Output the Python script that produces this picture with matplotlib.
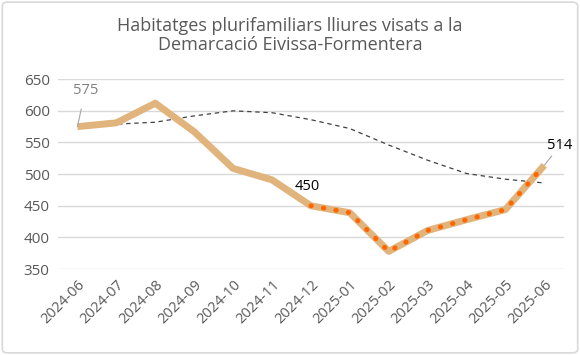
import matplotlib
matplotlib.use("Agg")
import matplotlib.pyplot as plt
from matplotlib.patches import FancyBboxPatch

months = ["2024-06", "2024-07", "2024-08", "2024-09", "2024-10", "2024-11", "2024-12",
          "2025-01", "2025-02", "2025-03", "2025-04", "2025-05", "2025-06"]
visats = [575, 581, 612, 567, 509, 491, 450, 439, 378, 411, 428, 444, 514]
tendencia = [576, 579, 582, 592, 600, 597, 586, 572, 546, 522, 501, 492, 486]
ticks_y = [350, 400, 450, 500, 550, 600, 650]

plt.rcParams['font.family'] = ['Open Sans', 'DejaVu Sans']

fig = plt.figure(figsize=(5.8, 3.55), dpi=100)
fig.patches.append(FancyBboxPatch((0.004, 0.006), 0.992, 0.988, boxstyle="round,pad=0,rounding_size=0.01",
                                  transform=fig.transFigure, fill=False, edgecolor="#d9d9d9", linewidth=1.2))
ax = fig.add_axes([0.1, 0.242, 0.872, 0.535])

x = list(range(len(months)))
ax.plot(x, tendencia, color="#404040", linewidth=0.9, linestyle=(0, (3.5, 3)), zorder=2)
ax.plot(x, visats, color="#E0B47C", linewidth=5, solid_joinstyle="round", solid_capstyle="butt", zorder=3)
ax.plot(x[6:], visats[6:], color="#FF6600", linewidth=3.5, linestyle=(0, (0.1, 2.5)),
        dash_capstyle="round", zorder=4)

ax.set_xlim(-0.5, len(months) - 0.5)
ax.set_ylim(350, 650)
ax.set_yticks(ticks_y)
ax.set_yticklabels([str(v) for v in ticks_y], color="#595959", fontsize=11)
ax.set_xticks(x)
ax.set_xticklabels(months, rotation=45, ha="right", rotation_mode="anchor", color="#595959", fontsize=10.5)
ax.tick_params(axis="both", length=0, pad=6)
ax.grid(axis="y", color="#d9d9d9", linewidth=1)
ax.set_axisbelow(True)
for s in ax.spines.values():
    s.set_visible(False)

ax.annotate("575", xy=(x[0], visats[0]), xytext=(x[0] + 0.2, 632), color="#808080", fontsize=10.5,
            ha="center", va="center",
            arrowprops=dict(arrowstyle="-", color="#a6a6a6", linewidth=0.8, shrinkA=6, shrinkB=0))
ax.annotate("450", xy=(x[6], visats[6]), xytext=(x[6] - 0.1, 481), color="#000000", fontsize=10.5,
            ha="center", va="center",
            arrowprops=dict(arrowstyle="-", color="#a6a6a6", linewidth=0.8, shrinkA=6, shrinkB=0))
ax.annotate("514", xy=(x[12], visats[12]), xytext=(x[12] + 0.4, 545), color="#000000", fontsize=10.5,
            ha="center", va="center",
            arrowprops=dict(arrowstyle="-", color="#a6a6a6", linewidth=0.8, shrinkA=9, shrinkB=0))

fig.text(0.5, 0.9, "Habitatges plurifamiliars lliures visats a la\nDemarcació Eivissa-Formentera",
         ha="center", va="center", fontsize=13, color="#595959", linespacing=1.1)

fig.savefig("out.png", dpi=100)
